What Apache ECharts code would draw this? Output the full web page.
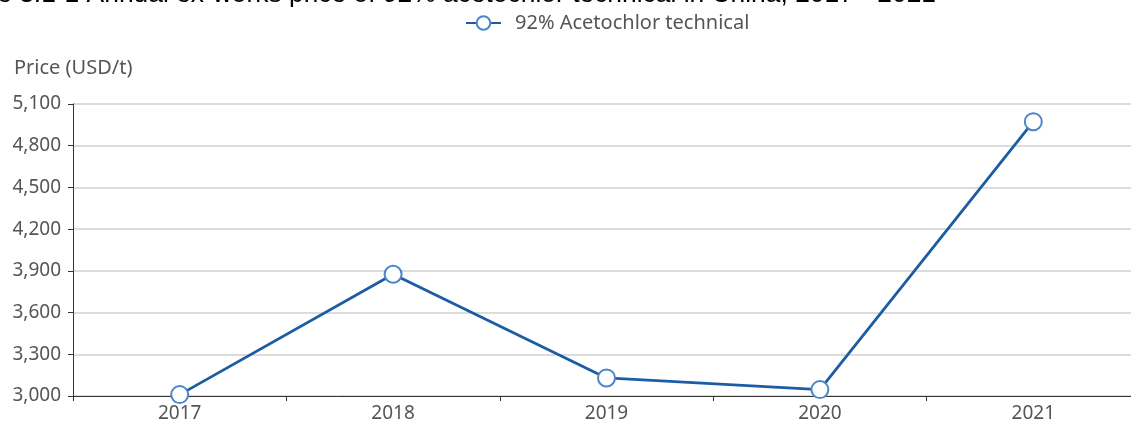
<!DOCTYPE html>
<html><head><meta charset="utf-8">
<script src="https://cdn.jsdelivr.net/npm/echarts@6/dist/echarts.min.js"></script>
<style>html,body{margin:0;padding:0;background:#fff}#c{width:1131px;height:425px}</style>
</head><body><div id="c"></div>
<script>
const titleText = 'Figure 3.1-1 Annual ex-works price of 92% acetochlor technical in China, 2017 - 2021';
const seriesName = '92% Acetochlor technical';
const years = ['2017', '2018', '2019', '2020', '2021'];
const prices = [3010, 3876, 3130, 3046, 4973];
const yAxisName = 'Price (USD/t)';

const chart = echarts.init(document.getElementById('c'));
const labelFont = '"Noto Sans", sans-serif';
chart.setOption({
  animation: false,
  graphic: [{
    type: 'text', left: -63, top: -18,
    style: { text: titleText, font: '26.4px "Liberation Sans", Arial, sans-serif', fill: '#000' }
  }],
  legend: {
    top: 13, left: 465, padding: 0,
    itemWidth: 35, itemHeight: 17, itemGap: 14,
    textStyle: { color: '#555', fontSize: 20, fontFamily: labelFont, padding: [0, 0, 0, 9] },
    data: [seriesName]
  },
  grid: { left: 73, top: 104, right: -9, bottom: 29, containLabel: false, outerBoundsMode: 'none' },
  xAxis: {
    type: 'category', data: years, boundaryGap: true,
    axisLine: { lineStyle: { color: '#333', width: 1 } },
    axisTick: { show: true, length: 5, lineStyle: { color: '#333' } },
    axisLabel: { color: '#555', fontSize: 19, fontFamily: labelFont, margin: 8 }
  },
  yAxis: {
    type: 'value', min: 3000, max: 5100, interval: 300,
    name: yAxisName, nameLocation: 'end', nameGap: 26,
    nameTextStyle: { color: '#555', fontSize: 20, fontFamily: labelFont, align: 'left', padding: [0, 0, 0, -59] },
    axisLine: { show: true, lineStyle: { color: '#333', width: 1 } },
    axisTick: { show: true, length: 5, lineStyle: { color: '#333' } },
    axisLabel: { color: '#555', fontSize: 19, fontFamily: labelFont, margin: 12,
      formatter: v => v.toLocaleString('en-US') },
    splitLine: { show: true, lineStyle: { color: '#d0d0d0', width: 1.5 } }
  },
  series: [{
    name: seriesName, type: 'line', data: prices,
    symbol: 'circle', symbolSize: 17,
    lineStyle: { color: '#1c5ca4', width: 2.8 },
    itemStyle: { color: '#fff', borderColor: '#4a86c8', borderWidth: 2 },
    emphasis: { disabled: true }
  }]
});
</script></body></html>
